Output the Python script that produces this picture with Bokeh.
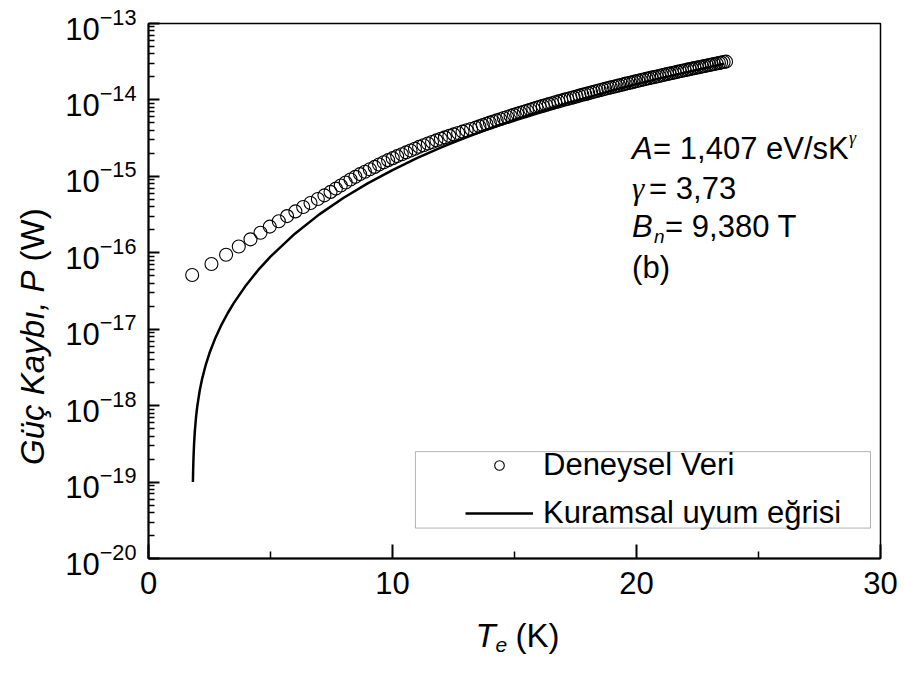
from bokeh.plotting import figure
from bokeh.layouts import row, column
from bokeh.models import Range1d, FixedTicker, Legend, LegendItem, Label, BoxAnnotation
from bokeh.embed import file_html
from bokeh.resources import INLINE

# Experimental data (Deneysel Veri): electron temperature T_e (K) and power loss P (W)
t_data = [1.79, 2.58, 3.18, 3.70, 4.18, 4.59, 4.97, 5.34, 5.68, 6.02,
          6.34, 6.64, 6.94, 7.21, 7.46, 7.68, 7.88, 8.08, 8.28, 8.48,
          8.67, 8.87, 9.07, 9.27, 9.45, 9.64, 9.82, 10.01, 10.19, 10.38,
          10.56, 10.74, 10.92, 11.09, 11.27, 11.45, 11.62, 11.80, 11.98, 12.15,
          12.33, 12.51, 12.69, 12.87, 13.04, 13.22, 13.41, 13.56, 13.70, 13.85,
          13.99, 14.13, 14.27, 14.42, 14.56, 14.70, 14.84, 14.97, 15.11, 15.24,
          15.38, 15.51, 15.64, 15.77, 15.90, 16.03, 16.16, 16.29, 16.41, 16.54,
          16.67, 16.80, 16.92, 17.05, 17.17, 17.30, 17.42, 17.54, 17.66, 17.78,
          17.90, 18.02, 18.14, 18.25, 18.37, 18.49, 18.61, 18.72, 18.84, 18.95,
          19.07, 19.18, 19.29, 19.41, 19.52, 19.63, 19.74, 19.85, 19.96, 20.07,
          20.18, 20.29, 20.40, 20.50, 20.61, 20.72, 20.83, 20.93, 21.04, 21.14,
          21.25, 21.35, 21.46, 21.56, 21.67, 21.77, 21.87, 21.97, 22.08, 22.18,
          22.28, 22.38, 22.48, 22.59, 22.69, 22.79, 22.89, 22.99, 23.08, 23.18,
          23.28, 23.38, 23.47, 23.57, 23.67]
p_data = [5.13e-17, 7.12e-17, 9.43e-17, 1.21e-16, 1.50e-16, 1.83e-16, 2.20e-16, 2.59e-16, 3.02e-16, 3.48e-16,
          3.97e-16, 4.49e-16, 5.05e-16, 5.64e-16, 6.26e-16, 6.92e-16, 7.60e-16, 8.32e-16, 9.08e-16, 9.86e-16,
          1.07e-15, 1.15e-15, 1.24e-15, 1.33e-15, 1.43e-15, 1.53e-15, 1.63e-15, 1.73e-15, 1.84e-15, 1.95e-15,
          2.06e-15, 2.18e-15, 2.30e-15, 2.43e-15, 2.55e-15, 2.69e-15, 2.82e-15, 2.96e-15, 3.10e-15, 3.24e-15,
          3.39e-15, 3.54e-15, 3.69e-15, 3.85e-15, 4.01e-15, 4.17e-15, 4.34e-15, 4.51e-15, 4.68e-15, 4.86e-15,
          5.04e-15, 5.22e-15, 5.40e-15, 5.59e-15, 5.79e-15, 5.98e-15, 6.18e-15, 6.38e-15, 6.59e-15, 6.80e-15,
          7.01e-15, 7.22e-15, 7.44e-15, 7.66e-15, 7.89e-15, 8.12e-15, 8.35e-15, 8.58e-15, 8.82e-15, 9.06e-15,
          9.31e-15, 9.56e-15, 9.81e-15, 1.01e-14, 1.03e-14, 1.06e-14, 1.08e-14, 1.11e-14, 1.14e-14, 1.17e-14,
          1.19e-14, 1.22e-14, 1.25e-14, 1.28e-14, 1.31e-14, 1.34e-14, 1.37e-14, 1.40e-14, 1.43e-14, 1.46e-14,
          1.49e-14, 1.52e-14, 1.55e-14, 1.58e-14, 1.62e-14, 1.65e-14, 1.68e-14, 1.71e-14, 1.75e-14, 1.78e-14,
          1.82e-14, 1.85e-14, 1.89e-14, 1.92e-14, 1.96e-14, 1.99e-14, 2.03e-14, 2.06e-14, 2.10e-14, 2.14e-14,
          2.18e-14, 2.21e-14, 2.25e-14, 2.29e-14, 2.33e-14, 2.37e-14, 2.41e-14, 2.45e-14, 2.49e-14, 2.53e-14,
          2.57e-14, 2.61e-14, 2.65e-14, 2.69e-14, 2.74e-14, 2.78e-14, 2.82e-14, 2.86e-14, 2.91e-14, 2.95e-14,
          2.99e-14, 3.04e-14, 3.08e-14, 3.13e-14, 3.17e-14]

# Theoretical fit curve (Kuramsal uyum egrisi)
t_fit = [1.82, 1.83, 1.84, 1.85, 1.87, 1.90, 1.95, 2.0, 2.1, 2.2,
         2.35, 2.5, 2.75, 3.0, 3.25, 3.5, 4.0, 4.5, 5, 6,
         7, 8, 9, 10, 11, 12, 13, 14, 15, 16,
         17, 18, 19, 20, 21, 22, 23, 23.6]
p_fit = [1.00e-19, 1.44e-19, 1.88e-19, 2.33e-19, 3.24e-19, 4.67e-19, 7.18e-19, 9.86e-19, 1.58e-18, 2.26e-18,
         3.45e-18, 4.88e-18, 7.81e-18, 1.16e-17, 1.63e-17, 2.21e-17, 3.77e-17, 5.96e-17, 8.93e-17, 1.78e-16,
         3.18e-16, 5.25e-16, 8.15e-16, 1.21e-15, 1.73e-15, 2.39e-15, 3.22e-15, 4.25e-15, 5.50e-15, 6.98e-15,
         8.76e-15, 1.08e-14, 1.33e-14, 1.61e-14, 1.93e-14, 2.29e-14, 2.70e-14, 2.98e-14]

x_ticks = [0, 10, 20, 30]
x_minor = [5, 15, 25]
y_exponents = [-20, -19, -18, -17, -16, -15, -14, -13]

FONT = "Liberation Sans"

y_ticks = [10.0 ** e for e in y_exponents]
y_minor = [m * 10.0 ** e for e in y_exponents[:-1] for m in range(2, 10)]


def add_label(fig, x, y, text, size, style="normal", font=FONT, xo=0, yo=0, angle=0.0,
              align="left", baseline="middle"):
    fig.add_layout(Label(x=x, y=y, text=text, text_font=font, text_font_size=size,
                         text_font_style=style, x_offset=xo, y_offset=yo, angle=angle,
                         text_align=align, text_baseline=baseline, text_color="black"))


def blank_panel(w, h, x0=0, x1=None):
    f = figure(width=w, height=h, x_range=Range1d(x0, x1 if x1 is not None else w),
               y_range=Range1d(0, h),
               x_axis_location=None, y_axis_location=None, min_border=0,
               output_backend="svg", toolbar_location=None)
    f.outline_line_color = None
    f.background_fill_color = "white"
    f.border_fill_color = "white"
    f.grid.visible = False
    return f


# ---- main plot ----
p = figure(width=844, height=615, y_axis_type="log",
           x_range=Range1d(0, 30), y_range=Range1d(1e-20, 1e-13),
           output_backend="svg", toolbar_location=None,
           min_border_left=88, min_border_right=24, min_border_top=23, min_border_bottom=57)
p.background_fill_color = "white"
p.border_fill_color = "white"
p.outline_line_color = "black"
p.outline_line_width = 1.5
p.xgrid.visible = False
p.ygrid.visible = False

p.xaxis.ticker = FixedTicker(ticks=x_ticks, minor_ticks=x_minor)
p.yaxis.ticker = FixedTicker(ticks=y_ticks, minor_ticks=y_minor)
for ax in (p.xaxis, p.yaxis):
    ax.axis_line_width = 2
    ax.axis_line_color = "black"
    ax.major_tick_out = 0
    ax.minor_tick_out = 0
    ax.major_tick_line_width = 2
    ax.minor_tick_line_width = 1.5
    ax.major_tick_line_color = "black"
    ax.minor_tick_line_color = "black"
    ax.major_label_text_font = FONT
    ax.major_label_text_font_size = "31px"
    ax.major_label_text_color = "black"
p.xaxis.major_label_standoff = 13
p.yaxis.major_label_standoff = 12
p.xaxis.major_tick_in = 14
p.xaxis.minor_tick_in = 7
p.yaxis.major_tick_in = 11
p.yaxis.minor_tick_in = 6

r_data = p.scatter(t_data, p_data, marker="circle", size=13, fill_alpha=0,
                   line_color="black", line_width=1.1)
r_fit = p.line(t_fit, p_fit, line_color="black", line_width=2.5)

# legend frame
box = BoxAnnotation(left=10.94, right=29.59, bottom=2.5e-20, top=2.5e-19,
                    fill_color="white", fill_alpha=1.0, line_color="black", line_width=1)
p.add_layout(box)

legend = Legend(items=[LegendItem(label="Deneysel Veri", renderers=[r_data]),
                       LegendItem(label="Kuramsal uyum eğrisi", renderers=[r_fit])],
                location=(317, 27), glyph_width=68, glyph_height=24, label_standoff=10,
                spacing=12, padding=0, margin=0,
                border_line_alpha=0, background_fill_alpha=0,
                label_text_font=FONT, label_text_font_size="31px", label_text_color="black")
p.add_layout(legend)

# parameter annotations
ax0 = 19.82
add_label(p, ax0, 2.29e-15, "A", "31px", "italic")
add_label(p, ax0, 2.29e-15, "= 1,407 eV/sK", "31px", xo=21)
add_label(p, ax0, 2.29e-15, "γ", "18px", "italic", font="Liberation Serif", xo=217, yo=11)
add_label(p, ax0, 6.85e-16, "γ", "31px", "italic", font="Liberation Serif")
add_label(p, ax0, 6.85e-16, "= 3,73", "31px", xo=17)
add_label(p, ax0, 2.18e-16, "B", "31px", "italic")
add_label(p, ax0, 2.18e-16, "n", "19px", "italic", xo=22, yo=-10)
add_label(p, ax0, 2.18e-16, "= 9,380 T", "31px", xo=33)
add_label(p, ax0, 6.34e-17, "(b)", "31px")

# ---- y axis title panel (left) ----
left_panel = blank_panel(60, 679)
add_label(left_panel, 32, 409, "Güç Kaybı, P", "33px", "italic", angle=1.5708, align="right")
add_label(left_panel, 32, 418, "(W)", "33px", angle=1.5708, align="left")

# ---- x axis title panel (bottom); its frame is aligned with the main frame (page x 148..880) ----
bottom_panel = blank_panel(844, 64, 148, 880)
add_label(bottom_panel, 475, 44, "T", "33px", "italic")
add_label(bottom_panel, 475, 44, "e", "21px", "italic", xo=20, yo=-9)
add_label(bottom_panel, 475, 44, "(K)", "33px", xo=40)

layout = row(left_panel, column(p, bottom_panel, spacing=0), spacing=0)

open("out.html", "w").write(file_html(layout, INLINE))
